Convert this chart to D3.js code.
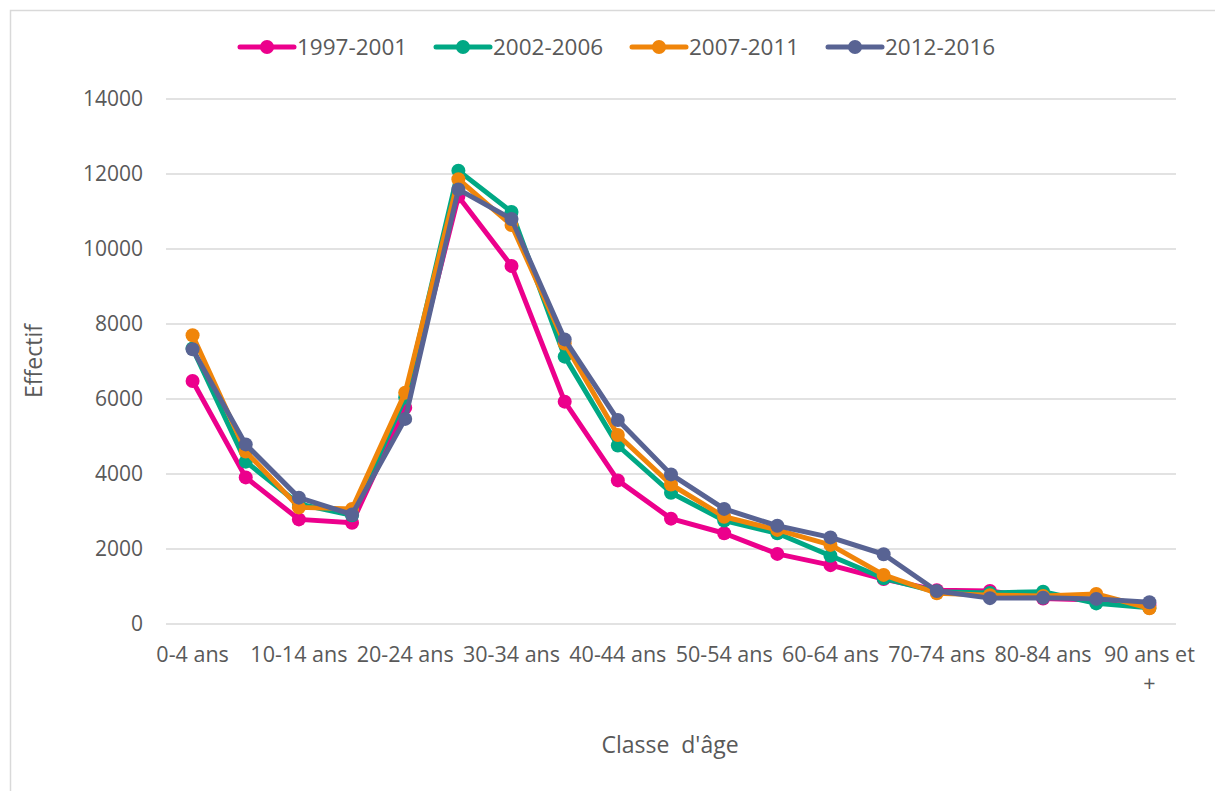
<!DOCTYPE html>
<html>
<head>
<meta charset="utf-8">
<script src="https://cdn.jsdelivr.net/npm/d3@7"></script>
<style>
  body { margin: 0; background: #fff; }
  text { font-family: "Open Sans", sans-serif; fill: #595959; }
</style>
</head>
<body>
<svg id="chart" width="1215" height="791"></svg>
<script>
// Age classes (x categories)
const ageClasses = [
  "0-4 ans", "5-9 ans", "10-14 ans", "15-19 ans", "20-24 ans", "25-29 ans",
  "30-34 ans", "35-39 ans", "40-44 ans", "45-49 ans", "50-54 ans", "55-59 ans",
  "60-64 ans", "65-69 ans", "70-74 ans", "75-79 ans", "80-84 ans", "85-89 ans",
  "90 ans et +"
];

// Headcount per age class, one array per period
const s1997_2001 = [6480, 3910, 2790, 2700, 5770, 11400, 9550, 5930, 3830, 2810, 2420, 1870, 1570, 1200, 900, 880, 680, 640, 500];
const s2002_2006 = [7350, 4330, 3200, 2900, 6040, 12090, 10990, 7130, 4760, 3500, 2760, 2420, 1820, 1220, 860, 830, 860, 550, 430];
const s2007_2011 = [7700, 4600, 3110, 3070, 6170, 11860, 10640, 7480, 5040, 3720, 2860, 2510, 2110, 1310, 820, 770, 750, 800, 420];
const s2012_2016 = [7325, 4790, 3370, 2920, 5470, 11590, 10800, 7590, 5440, 3990, 3070, 2620, 2310, 1860, 880, 690, 700, 670, 580];

const seriesNames = ["1997-2001", "2002-2006", "2007-2011", "2012-2016"];
const seriesColors = ["#EC008C", "#00A884", "#F0850A", "#586393"];
const yTicks = [0, 2000, 4000, 6000, 8000, 10000, 12000, 14000];

const series = seriesNames.map((name, i) => ({
  name,
  color: seriesColors[i],
  values: [s1997_2001, s2002_2006, s2007_2011, s2012_2016][i]
}));

const svg = d3.select("#chart");

// Outer frame
svg.append("rect")
  .attr("x", 10.5).attr("y", 10.5)
  .attr("width", 1230).attr("height", 800)
  .attr("fill", "none").attr("stroke", "#d9d9d9").attr("stroke-width", 1.5);

const plot = { left: 166, right: 1176, top: 99, bottom: 624 };

const x = d3.scaleBand().domain(ageClasses).range([plot.left, plot.right]).padding(0);
const y = d3.scaleLinear().domain([0, 14000]).range([plot.bottom, plot.top]);
const cx = d => x(d) + x.bandwidth() / 2;

// Horizontal gridlines
svg.append("g")
  .selectAll("line")
  .data(yTicks)
  .join("line")
  .attr("x1", plot.left).attr("x2", plot.right)
  .attr("y1", d => y(d)).attr("y2", d => y(d))
  .attr("stroke", "#d9d9d9").attr("stroke-width", 1.5);

// Y axis labels
const yAxis = d3.axisLeft(y).tickValues(yTicks).tickSize(0).tickPadding(23).tickFormat(d3.format("d"));
svg.append("g")
  .attr("transform", `translate(${plot.left},0)`)
  .call(yAxis)
  .call(g => g.select(".domain").remove())
  .call(g => g.selectAll("text")
    .style("font-family", '"Open Sans", sans-serif')
    .style("font-size", "21px")
    .attr("fill", "#595959"));

// X axis labels: every other class
const xg = svg.append("g");
ageClasses.forEach((c, i) => {
  if (i % 2 !== 0) return;
  const t = xg.append("text")
    .attr("x", cx(c)).attr("y", 662)
    .attr("text-anchor", "middle")
    .style("font-size", "21.5px");
  if (c === "90 ans et +") {
    t.append("tspan").attr("x", cx(c)).attr("dy", 0).text("90 ans et");
    t.append("tspan").attr("x", cx(c)).attr("dy", 29).text("+");
  } else {
    t.text(c);
  }
});

// Axis titles
svg.append("text")
  .attr("transform", "translate(42,361) rotate(-90)")
  .attr("text-anchor", "middle")
  .style("font-size", "23px")
  .text("Effectif");

svg.append("text")
  .attr("x", 670).attr("y", 753)
  .attr("text-anchor", "middle")
  .style("font-size", "23px")
  .style("white-space", "pre")
  .text("Classe  d'âge");

// Lines and markers
const line = d3.line()
  .x((d, i) => cx(ageClasses[i]))
  .y(d => y(d));

series.forEach(s => {
  const g = svg.append("g");
  g.append("path")
    .datum(s.values)
    .attr("d", line)
    .attr("fill", "none")
    .attr("stroke", s.color)
    .attr("stroke-width", 5)
    .attr("stroke-linejoin", "round");
  g.selectAll("circle")
    .data(s.values)
    .join("circle")
    .attr("cx", (d, i) => cx(ageClasses[i]))
    .attr("cy", d => y(d))
    .attr("r", 7)
    .attr("fill", s.color);
});

// Legend
const legendX = [240, 436, 632, 828];
const legend = svg.append("g");
series.forEach((s, i) => {
  const lx = legendX[i];
  legend.append("line")
    .attr("x1", lx).attr("x2", lx + 54)
    .attr("y1", 47).attr("y2", 47)
    .attr("stroke", s.color).attr("stroke-width", 5).attr("stroke-linecap", "round");
  legend.append("circle")
    .attr("cx", lx + 27).attr("cy", 47).attr("r", 7).attr("fill", s.color);
  legend.append("text")
    .attr("x", lx + 57).attr("y", 55)
    .style("font-size", "22.5px")
    .text(s.name);
});
</script>
</body>
</html>
